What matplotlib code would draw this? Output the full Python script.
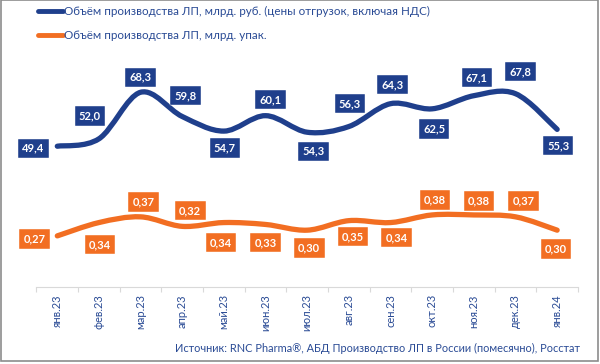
import numpy as np
import matplotlib.pyplot as plt
from matplotlib.path import Path
from matplotlib.patches import PathPatch, Rectangle
from matplotlib.lines import Line2D

plt.rcParams['font.family'] = ['Lato', 'DejaVu Sans']

months = ['янв.23', 'фев.23', 'мар.23', 'апр.23', 'май.23', 'июн.23', 'июл.23',
          'авг.23', 'сен.23', 'окт.23', 'ноя.23', 'дек.23', 'янв.24']
rub_bln = [49.4, 52.0, 68.3, 59.8, 54.7, 60.1, 54.3, 56.3, 64.3, 62.5, 67.1, 67.8, 55.3]
packs_bln = [0.27, 0.34, 0.37, 0.32, 0.34, 0.33, 0.30, 0.35, 0.34, 0.38, 0.38, 0.37, 0.30]

rub_name = 'Объём производства ЛП, млрд. руб. (цены отгрузок, включая НДС)'
packs_name = 'Объём производства ЛП, млрд. упак.'
source = 'Источник: RNC Pharma®, АБД Производство ЛП в России (помесячно), Росстат'

BLUE = '#1F3F8C'
ORANGE = '#F26E22'
TXT = '#2A4B95'

# label offsets in pixels (dx right, dy down)
rub_off = [(-24, 2), (-9, -23), (0, -15), (3, -21), (1, 17), (5, -16), (6, 19),
           (1, -23), (2, -19), (2, 20), (3, -18), (5, -22), (1, 16)]
pk_off = [(-23, 3), (1, 22), (3, -15), (8, -16), (-3, 20), (0, 18), (2, 18),
          (4, 16), (6, 15), (3, -15), (5, -14), (8, -16), (-1, 19)]


def smooth_path(xs, ys):
    # excel-like smoothed line, cubic bezier through points
    pts = np.column_stack([xs, ys]).astype(float)
    n = len(pts)
    verts = [pts[0]]
    codes = [Path.MOVETO]
    for i in range(n - 1):
        p0 = pts[max(i - 1, 0)]
        p1 = pts[i]
        p2 = pts[i + 1]
        p3 = pts[min(i + 2, n - 1)]
        c1 = p1 + (p2 - p0) / 6.0
        c2 = p2 - (p3 - p1) / 6.0
        verts += [c1, c2, p2]
        codes += [Path.CURVE4] * 3
    return Path(verts, codes)


def draw_series(ax, vals, color, offs):
    x = np.arange(len(vals))
    ax.add_patch(PathPatch(smooth_path(x, vals), fill=False, edgecolor=color,
                           lw=3.8, capstyle='round', joinstyle='round', zorder=3))
    for xi, v, (dx, dy) in zip(x, vals, offs):
        s = ('%.2f' % v if v < 1 else '%.1f' % v).replace('.', ',')
        ax.annotate(s, (xi, v), xytext=(dx * 0.72, -dy * 0.72), textcoords='offset points',
                    ha='center', va='center', fontsize=8, fontweight='bold', color='white',
                    bbox=dict(boxstyle='square,pad=0.38', fc=color, ec='#ffffff', lw=0.3),
                    zorder=5)


fig = plt.figure(figsize=(6, 3.64), dpi=100)
ax = fig.add_axes([0.0608, 0.2108, 0.9025, 0.6275])
ax2 = ax.twinx()

x = np.arange(len(months))
ax.set_xlim(-0.5, len(months) - 0.5)
ax.set_ylim(0, 80)
ax2.set_ylim(0, 1.2)

draw_series(ax, rub_bln, BLUE, rub_off)
draw_series(ax2, packs_bln, ORANGE, pk_off)

for a in (ax, ax2):
    for sp in ('top', 'right', 'left'):
        a.spines[sp].set_visible(False)
    a.set_yticks([])
ax2.spines['bottom'].set_visible(False)
ax.spines['bottom'].set_color('#D9D9D9')

ax.set_xticks(np.arange(len(months) + 1) - 0.5)
ax.set_xticklabels([])
ax.tick_params(axis='x', which='major', length=3.5, color='#D9D9D9', width=0.8)
ax.set_xticks(x, minor=True)
ax.set_xticklabels(months, minor=True, rotation=90, fontsize=8, color=TXT)
ax.tick_params(axis='x', which='minor', length=0, pad=5)

handles = [Line2D([], [], color=BLUE, lw=3.5, solid_capstyle='round'),
           Line2D([], [], color=ORANGE, lw=3.5, solid_capstyle='round')]
fig.legend(handles, [rub_name, packs_name], loc='upper left', bbox_to_anchor=(0.045, 1.012),
           frameon=False, fontsize=8.4, labelcolor=TXT, handlelength=2.2, handletextpad=0.05,
           labelspacing=1.1)

fig.text(0.967, 0.043, source, ha='right', va='center', fontsize=7.9, color=TXT)

fig.add_artist(Rectangle((0.001, 0.009), 0.996, 0.99, transform=fig.transFigure,
                         fill=False, ec='#8C8C8C', lw=1.2))

fig.savefig('out.png', dpi=100)
